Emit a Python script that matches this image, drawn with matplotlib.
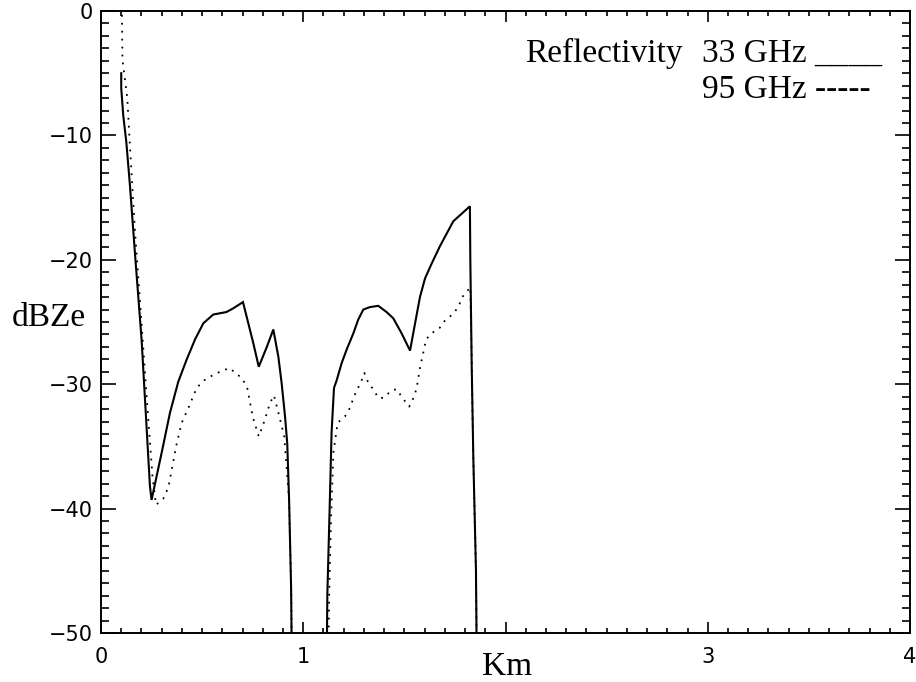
import numpy as np
import matplotlib
matplotlib.use("Agg")
import matplotlib.pyplot as plt
from matplotlib.ticker import MultipleLocator

# ---- data ----
# 33 GHz reflectivity (solid), two cloud layers
x33_a = [0.100, 0.100, 0.110, 0.125, 0.143, 0.168, 0.201, 0.222, 0.242, 0.250,
         0.300, 0.341, 0.382, 0.424, 0.465, 0.506, 0.555, 0.620, 0.654, 0.702,
         0.753, 0.780, 0.820, 0.852, 0.877, 0.893, 0.910, 0.921, 0.930, 0.940, 0.948]
y33_a = [-5.0, -6.2, -8.4, -10.5, -14.0, -19.5, -26.5, -32.5, -38.2, -39.3,
         -35.5, -32.3, -29.8, -28.0, -26.4, -25.1, -24.4, -24.2, -23.9, -23.4,
         -26.7, -28.6, -27.0, -25.6, -27.8, -29.9, -32.6, -34.8, -39.3, -46.4, -60.0]

x33_b = [1.112, 1.119, 1.130, 1.140, 1.152, 1.165, 1.190, 1.215, 1.248, 1.272,
         1.297, 1.330, 1.371, 1.412, 1.445, 1.486, 1.528, 1.553, 1.577, 1.602,
         1.635, 1.676, 1.742, 1.783, 1.824, 1.826, 1.833, 1.841, 1.854, 1.862]
y33_b = [-60.0, -47.0, -40.3, -33.9, -30.3, -29.7, -28.3, -27.2, -25.9, -24.8,
         -24.0, -23.8, -23.7, -24.2, -24.7, -25.9, -27.3, -25.1, -23.0, -21.5,
         -20.3, -18.9, -16.9, -16.3, -15.7, -19.9, -28.6, -36.0, -45.0, -60.0]

# 95 GHz reflectivity (dotted)
x95_a = [0.102, 0.106, 0.130, 0.140, 0.168, 0.200, 0.230, 0.255, 0.272, 0.308,
         0.333, 0.374, 0.399, 0.435, 0.473, 0.509, 0.550, 0.588, 0.634, 0.674,
         0.700, 0.723, 0.750, 0.780, 0.807, 0.836, 0.855, 0.882, 0.906, 0.930,
         0.940, 0.948]
y95_a = [2.0, -3.9, -7.0, -10.0, -17.7, -25.0, -32.0, -37.5, -39.7, -39.2,
         -38.3, -34.8, -33.1, -31.8, -30.3, -29.7, -29.3, -29.0, -28.7, -29.2,
         -29.6, -30.3, -32.6, -34.2, -33.0, -31.5, -30.9, -32.6, -34.2, -39.3,
         -46.4, -60.0]

x95_b = [1.118, 1.128, 1.137, 1.149, 1.170, 1.206, 1.231, 1.244, 1.264, 1.284,
         1.302, 1.322, 1.350, 1.371, 1.396, 1.437, 1.462, 1.490, 1.524, 1.548,
         1.561, 1.577, 1.597, 1.607, 1.635, 1.673, 1.700, 1.737, 1.767, 1.786,
         1.816, 1.826, 1.833, 1.841, 1.854, 1.862]
y95_b = [-60.0, -47.0, -41.0, -35.5, -33.1, -32.6, -31.9, -31.3, -30.5, -29.9,
         -29.1, -29.9, -30.5, -31.1, -31.1, -30.5, -30.4, -31.1, -31.8, -31.0,
         -30.3, -28.7, -27.2, -26.4, -25.9, -25.5, -24.9, -24.4, -23.8, -23.0,
         -22.4, -22.2, -28.6, -36.0, -45.0, -60.0]

x_ticks = [0, 1, 2, 3, 4]
x_ticklabels = ['0', '1', '', '3', '4']
y_ticks = [0, -10, -20, -30, -40, -50]
y_ticklabels = ['0', '\u221210', '\u221220', '\u221230', '\u221240', '\u221250']

# ---- figure ----
fig = plt.figure(figsize=(9.16, 6.82), dpi=100)
ax = fig.add_axes([101/916, 1 - 633/682, 809/916, 622/682])

solid_kw = dict(color='black', lw=1.5, linestyle='-', solid_joinstyle='miter')
dot_kw = dict(color='black', lw=1.3, linestyle=(0, (1, 3.4)))

ax.plot(x33_a, y33_a, **solid_kw)
ax.plot(x33_b, y33_b, **solid_kw)
ax.plot(x95_a, y95_a, **dot_kw)
ax.plot(x95_b, y95_b, **dot_kw)

ax.set_xlim(0, 4)
ax.set_ylim(-50, 0)

ax.set_xticks(x_ticks)
ax.set_xticklabels(x_ticklabels)
ax.set_yticks(y_ticks)
ax.set_yticklabels(y_ticklabels)
ax.xaxis.set_minor_locator(MultipleLocator(0.1))
ax.yaxis.set_minor_locator(MultipleLocator(1))

for sp in ax.spines.values():
    sp.set_linewidth(1.4)

ax.tick_params(which='both', direction='in', top=True, right=True, width=1.2,
               labelsize=15, colors='black')
ax.tick_params(axis='x', which='major', length=8, pad=10)
ax.tick_params(axis='x', which='minor', length=3.6)
ax.tick_params(axis='y', which='major', length=11, pad=6)
ax.tick_params(axis='y', which='minor', length=5.5)
for lbl in ax.get_xticklabels() + ax.get_yticklabels():
    lbl.set_fontfamily('DejaVu Sans')

serif = 'Liberation Serif'
ax.set_xlabel('Km', fontfamily=serif, fontsize=24)
ax.xaxis.set_label_coords((507 - 101) / 809, (633 - 675) / 622)
ax.xaxis.label.set_va('baseline')

ax.set_ylabel('dBZe', fontfamily=serif, fontsize=24, rotation=0,
              ha='left', va='baseline')
ax.yaxis.set_label_coords((12 - 101) / 809, (633 - 326) / 622)

# legend-like text block
fig.text(525/916, 1 - 62/682, 'Reflectivity', fontfamily=serif, fontsize=24,
         ha='left', va='baseline')
fig.text(702/916, 1 - 62/682, '33 GHz ____', fontfamily=serif, fontsize=24,
         ha='left', va='baseline')
fig.text(702/916, 1 - 98/682, '95 GHz -----', fontfamily=serif, fontsize=24,
         ha='left', va='baseline')

fig.savefig('out.png', dpi=100)
